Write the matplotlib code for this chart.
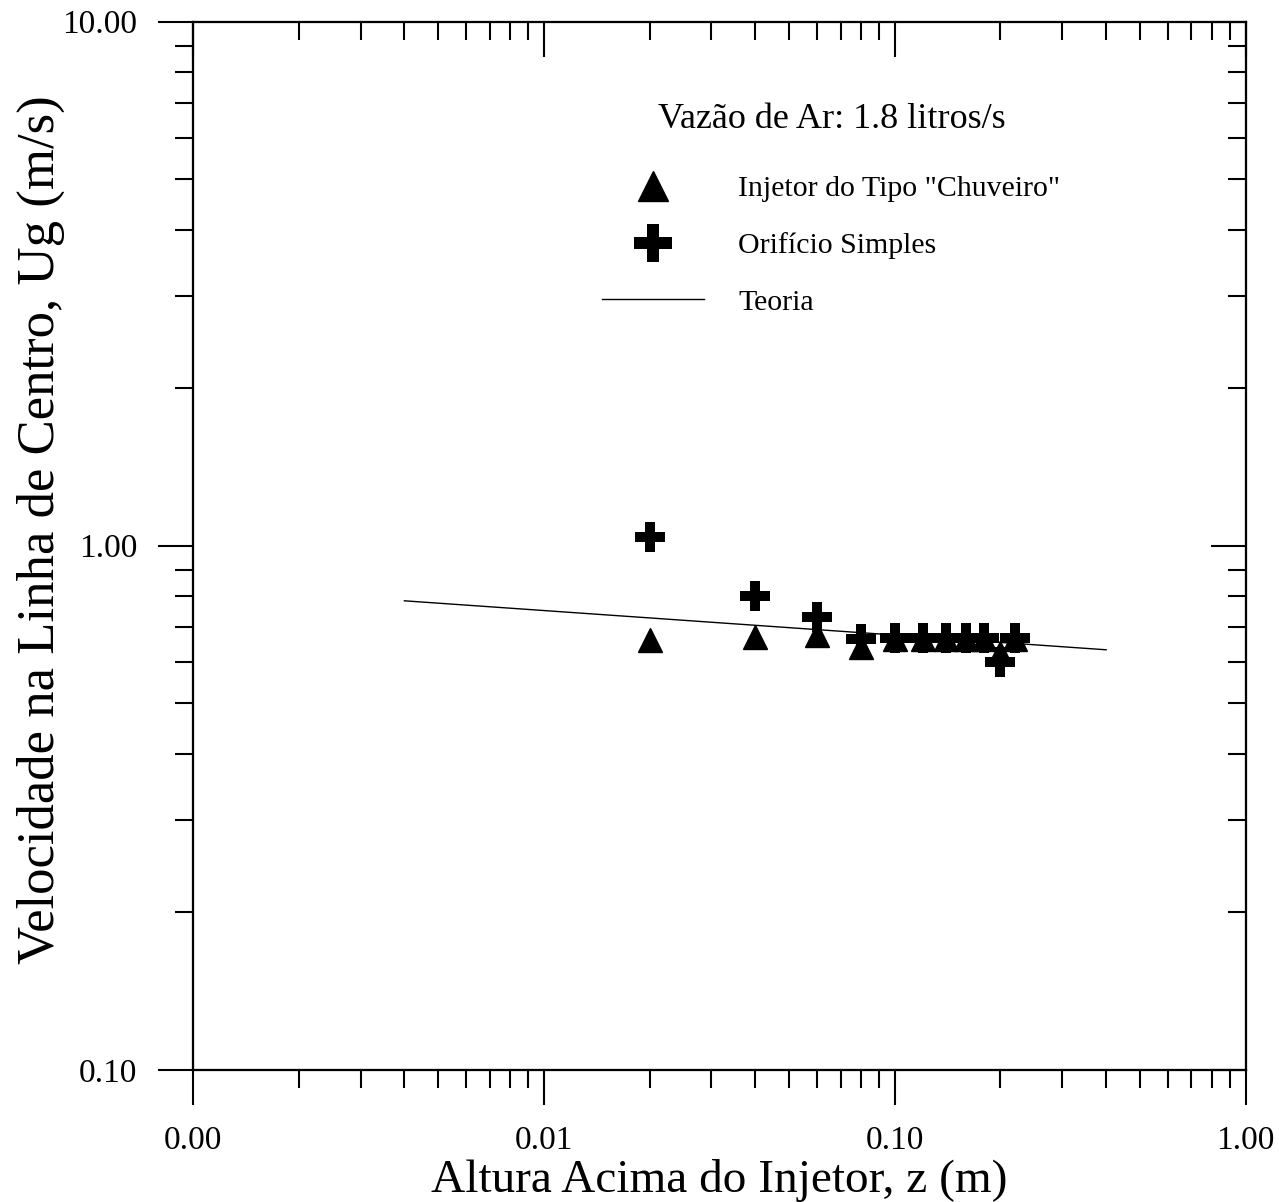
import matplotlib
matplotlib.use('Agg')
import matplotlib.pyplot as plt
import matplotlib.ticker as ticker

plt.rcParams['font.family'] = ['Liberation Serif', 'DejaVu Serif']

# Data (log-log)
z_chuveiro = [0.02, 0.04, 0.06, 0.08, 0.10, 0.12, 0.14, 0.16, 0.18, 0.20, 0.22]
u_chuveiro = [0.66, 0.67, 0.675, 0.64, 0.665, 0.665, 0.665, 0.665, 0.665, 0.625, 0.665]

z_orificio = [0.02, 0.04, 0.06, 0.08, 0.10, 0.12, 0.14, 0.16, 0.18, 0.20, 0.22]
u_orificio = [1.04, 0.80, 0.73, 0.665, 0.667, 0.667, 0.667, 0.667, 0.667, 0.60, 0.667]

z_teoria = [0.004, 0.40]
u_teoria = [0.785, 0.633]

x_ticks = [0.001, 0.01, 0.1, 1.0]
y_ticks = [0.1, 1.0, 10.0]

fig = plt.figure(figsize=(12.79, 12.02), dpi=100)
ax = fig.add_axes([0.151, 0.110, 0.823, 0.872])

line, = ax.plot(z_teoria, u_teoria, color='black', lw=1.0, label='Teoria')
tri, = ax.plot(z_chuveiro, u_chuveiro, ls='none', marker='^', ms=17, color='black',
               label='Injetor do Tipo "Chuveiro"')
plus, = ax.plot(z_orificio, u_orificio, ls='none', marker='P', ms=22, color='black',
                mew=0, label='Orifício Simples')

ax.set_xscale('log')
ax.set_yscale('log')
ax.set_xlim(0.001, 1.0)
ax.set_ylim(0.1, 10.0)

fmt = ticker.FuncFormatter(lambda v, p: f'{v:.2f}')
ax.xaxis.set_major_locator(ticker.FixedLocator(x_ticks))
ax.yaxis.set_major_locator(ticker.FixedLocator(y_ticks))
ax.xaxis.set_major_formatter(fmt)
ax.yaxis.set_major_formatter(fmt)
ax.xaxis.set_minor_locator(ticker.LogLocator(base=10, subs=range(2, 10)))
ax.yaxis.set_minor_locator(ticker.LogLocator(base=10, subs=range(2, 10)))
ax.xaxis.set_minor_formatter(ticker.NullFormatter())
ax.yaxis.set_minor_formatter(ticker.NullFormatter())

ax.tick_params(which='major', direction='out', length=25, width=1.5, labelsize=24, pad=15)
ax.tick_params(which='minor', direction='out', length=13, width=1.5)
for s in ax.spines.values():
    s.set_linewidth(1.5)

# top and right axes have inward ticks
axt = ax.twiny()
axt.set_xscale('log')
axt.set_xlim(ax.get_xlim())
axt.xaxis.set_major_locator(ticker.FixedLocator(x_ticks))
axt.xaxis.set_minor_locator(ticker.LogLocator(base=10, subs=range(2, 10)))
axt.tick_params(which='major', direction='in', length=25, width=1.5, labeltop=False)
axt.tick_params(which='minor', direction='in', length=13, width=1.5)

axr = ax.twinx()
axr.set_yscale('log')
axr.set_ylim(ax.get_ylim())
axr.yaxis.set_major_locator(ticker.FixedLocator(y_ticks))
axr.yaxis.set_minor_locator(ticker.LogLocator(base=10, subs=range(2, 10)))
axr.tick_params(which='major', direction='in', length=25, width=1.5, labelright=False)
axr.tick_params(which='minor', direction='in', length=13, width=1.5)
for a in (axt, axr):
    for s in a.spines.values():
        s.set_linewidth(1.5)

ax.set_xlabel('Altura Acima do Injetor, z (m)', fontsize=34, labelpad=2)
ax.set_ylabel('Velocidade na Linha de Centro, Ug (m/s)', fontsize=38)
ax.yaxis.set_label_coords(-0.122, 0.515)

leg = axr.legend(handles=[tri, plus, line], labels=[h.get_label() for h in (tri, plus, line)],
                 title='Vazão de Ar: 1.8 litros/s', title_fontsize=26, fontsize=21.5,
                 frameon=False, loc='upper left', bbox_to_anchor=(0.471, 0.914),
                 bbox_transform=fig.transFigure, borderaxespad=0, borderpad=0,
                 handlelength=3.4, handletextpad=1.15, labelspacing=1.0, markerscale=1.25,
                 numpoints=1)
leg._legend_box.sep = 28

fig.savefig('out.png', dpi=100)
